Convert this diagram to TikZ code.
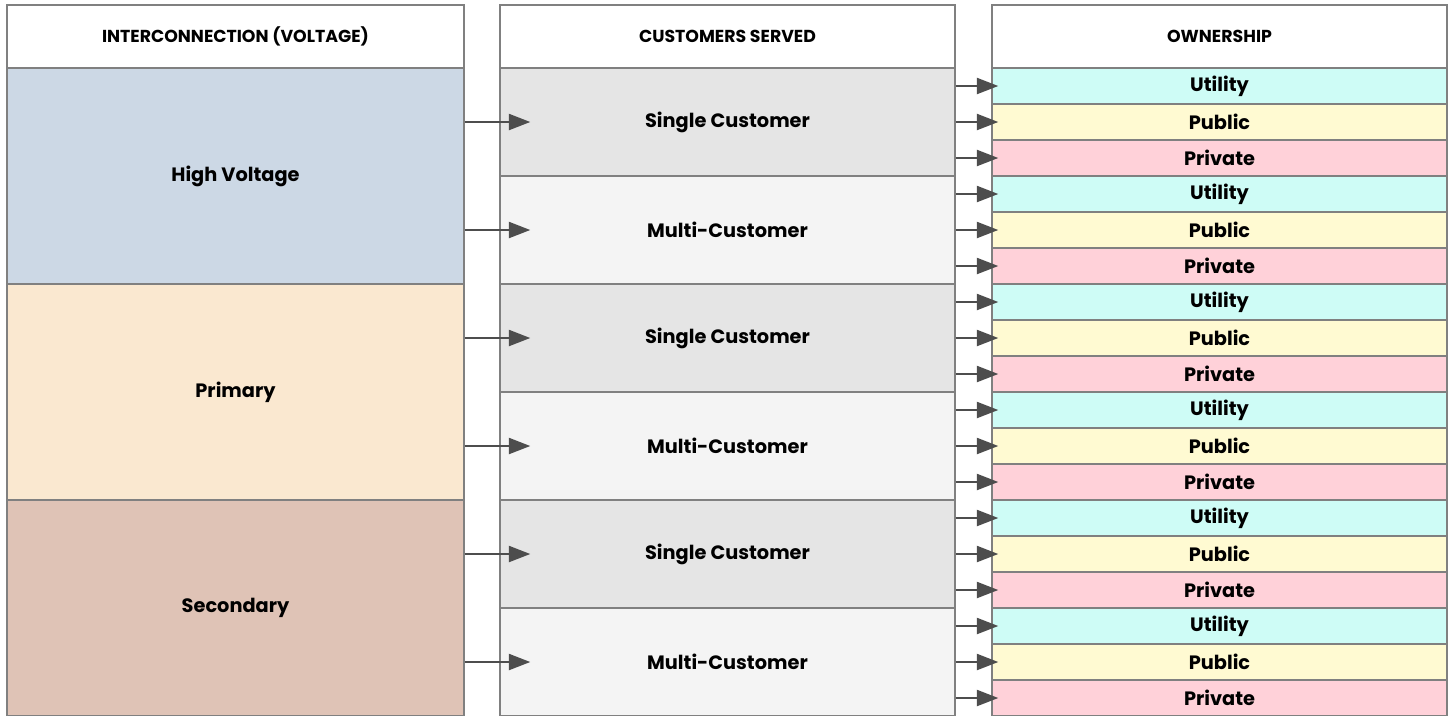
\documentclass[tikz,border=0pt]{standalone}
\usepackage{fontspec}
\setmainfont{Poppins}
\usetikzlibrary{arrows.meta}

\definecolor{gridgray}{HTML}{808080}
\definecolor{flowgray}{HTML}{4D4D4D}
\definecolor{hvblue}{HTML}{CCD8E5}
\definecolor{primtan}{HTML}{FAE8D0}
\definecolor{secbrown}{HTML}{DFC3B6}
\definecolor{singlegray}{HTML}{E5E5E5}
\definecolor{multigray}{HTML}{F4F4F4}
\definecolor{utilcyan}{HTML}{CEFCF6}
\definecolor{pubyellow}{HTML}{FFFAD2}
\definecolor{privpink}{HTML}{FFD1D9}

\begin{document}
\begin{tikzpicture}[x=0.75pt,y=-0.75pt,
    cell/.style={draw=gridgray,line width=1.1pt,inner sep=0pt,
        font=\bfseries\fontsize{14.5}{17}\selectfont},
    headcell/.style={cell,fill=white,minimum height=47.25pt,
        font=\bfseries\fontsize{13}{15}\selectfont},
    voltcell/.style={cell,minimum width=342.75pt,minimum height=162pt},
    custcell/.style={cell,minimum width=341.25pt,minimum height=81pt},
    owncell/.style={cell,minimum width=341.25pt,minimum height=27pt},
    flow/.style={draw=flowgray,line width=1.5pt,
        -{Triangle[length=16pt,width=12pt]}}]
\useasboundingbox (0,0) rectangle (1448,715);

% column headers
\node[headcell,minimum width=342.75pt] (h1) at (235.5,36.5) {INTERCONNECTION (VOLTAGE)};
\node[headcell,minimum width=341.25pt] (h2) at (727.5,36.5) {CUSTOMERS SERVED};
\node[headcell,minimum width=341.25pt] (h3) at (1219.5,36.5) {OWNERSHIP};

% voltage levels
\foreach \name/\col [count=\i from 0] in {High Voltage/hvblue,Primary/primtan,Secondary/secbrown}
    \node[voltcell,fill=\col] (v\i) at (235.5,176+216*\i) {\name};

% customers served, two per voltage level
\foreach \j [evaluate=\j as \v using int(\j/2)] in {0,...,5} {
    \ifodd\j
        \node[custcell,fill=multigray] (c\j) at (727.5,122+108*\j) {Multi-Customer};
    \else
        \node[custcell,fill=singlegray] (c\j) at (727.5,122+108*\j) {Single Customer};
    \fi
    \coordinate (t\j) at ([xshift=23.25pt]c\j.west);
    \draw[flow] (v\v.east |- c\j.west) -- (t\j);
}

% ownership, three per customer box
\foreach \j in {0,...,5}
    \foreach \own/\col [count=\r from 0] in {Utility/utilcyan,Public/pubyellow,Private/privpink} {
        \node[owncell,fill=\col] (o\j-\r) at (1219.5,86+108*\j+36*\r) {\own};
        \coordinate (u\j-\r) at ([xshift=5.25pt]o\j-\r.west);
        \draw[flow] (c\j.east |- o\j-\r.west) -- (u\j-\r);
    }
\end{tikzpicture}
\end{document}
